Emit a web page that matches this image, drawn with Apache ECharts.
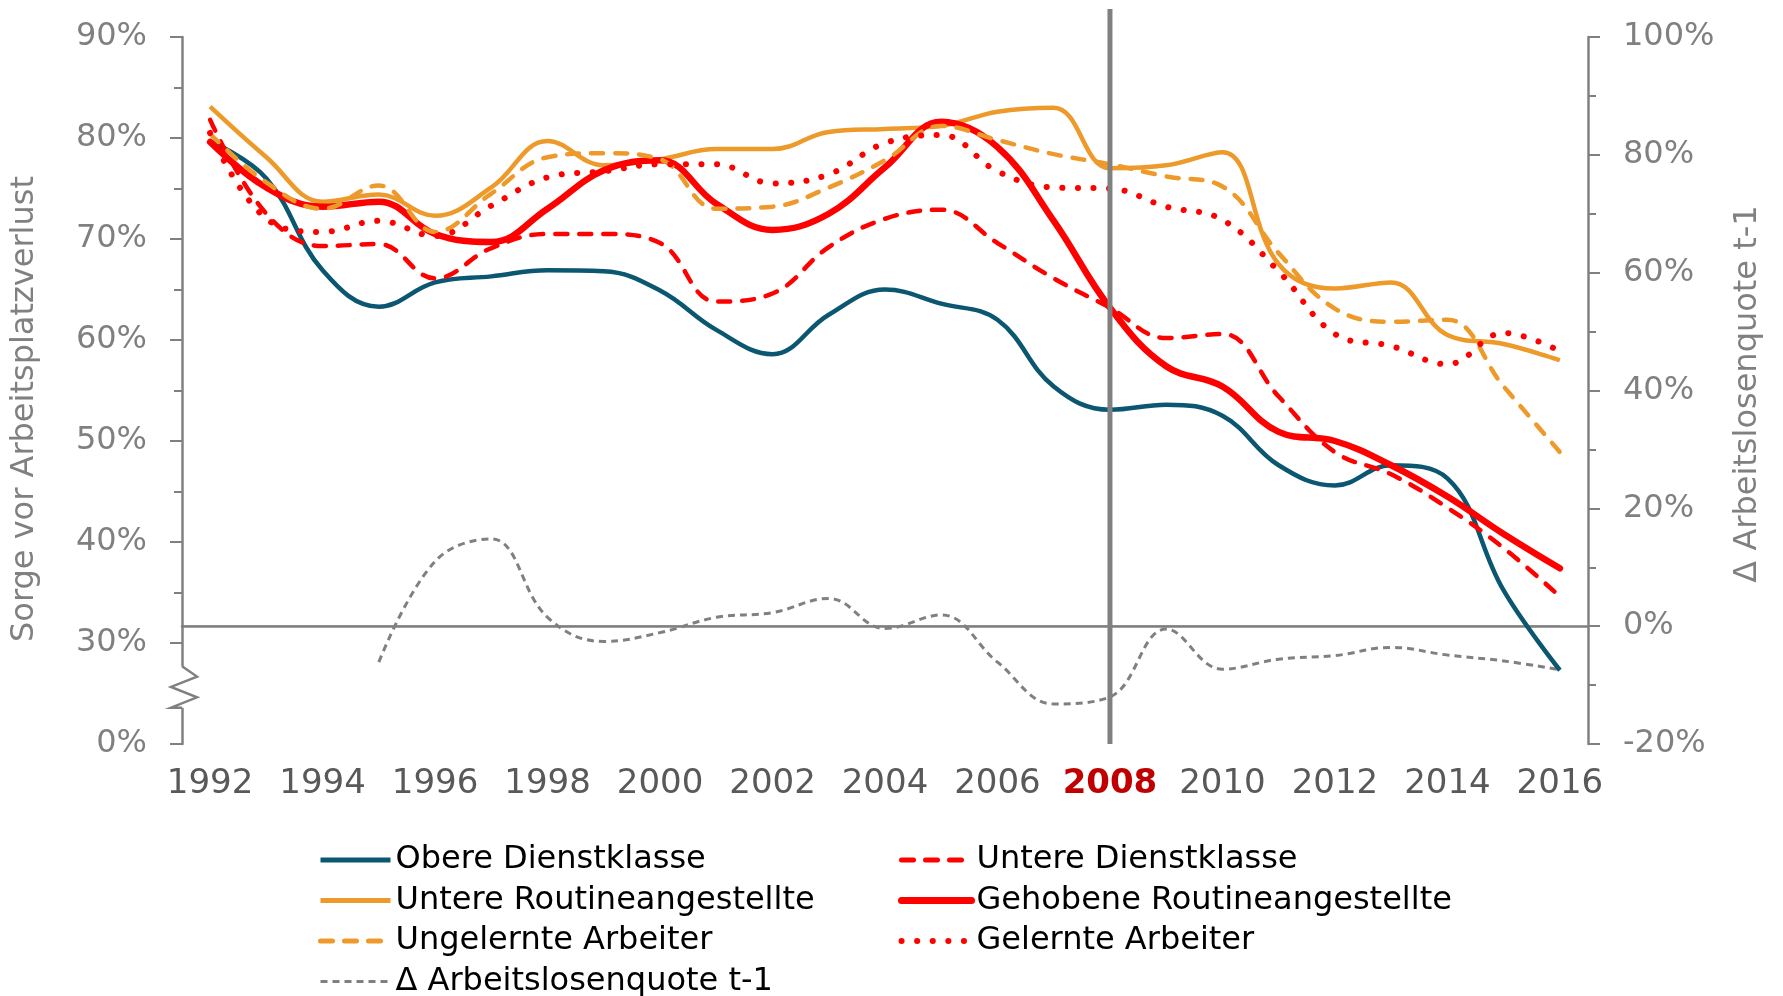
<!DOCTYPE html>
<html>
<head>
<meta charset="utf-8">
<script src="https://cdn.jsdelivr.net/npm/echarts@6/dist/echarts.min.js"></script>
<style>
html,body{margin:0;padding:0;background:#fff;}
#chart{width:1783px;height:996px;}
</style>
</head>
<body>
<div id="chart"></div>
<script>
// Jahre (Kategorien)
var years = ['1992','1993','1994','1995','1996','1997','1998','1999','2000','2001','2002','2003','2004',
             '2005','2006','2007','2008','2009','2010','2011','2012','2013','2014','2015','2016'];

// Sorge vor Arbeitsplatzverlust, in %
var obereDienst     = [79.7,76.0,66.9,63.3,65.7,66.3,66.9,66.8,64.9,61.0,58.6,62.5,65.0,63.6,62.0,55.4,53.1,53.6,52.5,47.6,45.6,47.6,46.3,35.2,27.3];
var untereDienst    = [81.8,72.5,69.3,69.5,66.1,69.1,70.5,70.5,69.6,63.8,64.6,69.2,72.0,72.9,69.6,66.1,63.2,60.2,60.6,54.4,48.9,46.7,43.4,39.4,34.6];
var untereRoutine   = [83.1,78.1,73.7,74.4,72.3,75.1,79.7,77.3,77.9,78.9,78.9,80.6,80.9,81.2,82.6,83.0,77.0,77.3,78.6,67.5,65.1,65.7,60.5,59.6,58.0];
var gehobeneRoutine = [79.6,75.1,73.2,73.7,70.5,69.7,73.0,76.8,77.8,73.5,70.9,72.5,77.1,81.6,79.1,71.8,63.2,57.4,55.4,50.9,50.0,47.6,44.5,40.8,37.4];
var ungelernte      = [80.4,75.6,73.0,75.3,70.7,74.5,78.1,78.5,77.9,73.0,73.2,75.1,77.8,81.2,79.8,78.4,77.4,76.2,75.2,68.6,63.1,61.8,62.0,55.4,48.9];
var gelernte        = [80.5,72.0,70.7,71.8,70.3,73.3,76.1,76.7,77.4,77.4,75.5,76.4,79.5,80.3,76.7,75.1,75.0,73.2,71.9,66.8,60.6,59.4,57.6,60.7,58.9];
// Δ Arbeitslosenquote t-1 (rechte Achse), ab 1995
var deltaALQ        = [null,null,null,-6.1,11.0,14.8,1.5,-2.6,-1.1,1.5,2.3,4.7,-0.4,1.9,-6.1,-13.2,-12.0,-0.5,-7.3,-5.6,-5.0,-3.6,-4.9,-5.9,-7.4];

var FONT = '"DejaVu Sans", Verdana, sans-serif';
var GRAU = '#808080';

var myChart = echarts.init(document.getElementById('chart'));

function linie(name, data, color, width, dash, cap, axis){
    return {
        name: name,
        type: 'line',
        data: data,
        yAxisIndex: axis || 0,
        smooth: 0.4,
        symbol: 'none',
        connectNulls: false,
        lineStyle: {color: color, width: width, type: dash, cap: cap || 'butt'},
        itemStyle: {color: color}
    };
}

function eintrag(name, width){
    return {name: name, lineStyle: {width: width}};
}

var legendeBasis = {
    orient: 'vertical', top: 844, height: 170, padding: 0,
    itemWidth: 70, itemHeight: 14, itemGap: 8.5,
    itemStyle: {opacity: 0},
    textStyle: {fontFamily: FONT, fontSize: 32, color: '#000', lineHeight: 32}
};

var option = {
    animation: false,
    backgroundColor: '#fff',
    grid: {left: 182, right: 195, top: 37, bottom: 252},
    legend: [
        echarts.util.extend({
            left: 318,
            data: [eintrag('Obere Dienstklasse', 5), eintrag('Untere Routineangestellte', 5),
                   eintrag('Ungelernte Arbeiter', 5), eintrag('Δ Arbeitslosenquote t-1', 3)]
        }, legendeBasis),
        echarts.util.extend({
            left: 898,
            data: [eintrag('Untere Dienstklasse', 5), eintrag('Gehobene Routineangestellte', 7),
                   eintrag('Gelernte Arbeiter', 6)]
        }, legendeBasis)
    ],
    xAxis: [
        {
            type: 'category',
            data: years,
            boundaryGap: true,
            axisLine: {lineStyle: {color: GRAU, width: 2.5}},
            axisTick: {interval: 1, length: 11, lineStyle: {color: GRAU, width: 2}},
            axisLabel: {
                interval: 1, margin: 23,
                fontFamily: FONT, fontSize: 34, color: '#595959',
                formatter: function(v){ return v === '2008' ? '{hl|2008}' : v; },
                rich: {hl: {fontFamily: FONT, fontSize: 34, color: '#C00000', fontWeight: 'bold'}}
            },
            splitLine: {show: false}
        },
        {
            type: 'category',
            data: years,
            position: 'bottom',
            boundaryGap: true,
            axisLine: {show: false},
            axisTick: {interval: 0, length: 7, lineStyle: {color: GRAU, width: 2}},
            axisLabel: {show: false},
            splitLine: {show: false}
        }
    ],
    yAxis: [
        {
            type: 'value',
            min: 20, max: 90, interval: 10,
            axisLine: {show: true, lineStyle: {color: GRAU, width: 2.5}},
            axisTick: {show: true, length: 12, lineStyle: {color: GRAU, width: 2}},
            minorTick: {show: true, splitNumber: 2, length: 8, lineStyle: {color: GRAU, width: 2}},
            axisLabel: {
                margin: 35, fontFamily: FONT, fontSize: 32, color: GRAU,
                formatter: function(v){ return (v === 20 ? 0 : v) + '%'; }
            },
            splitLine: {show: false}
        },
        {
            type: 'value',
            min: -20, max: 100, interval: 20,
            position: 'right',
            axisLine: {show: true, lineStyle: {color: GRAU, width: 2.5}},
            axisTick: {show: true, length: 12, lineStyle: {color: GRAU, width: 2}},
            minorTick: {show: true, splitNumber: 2, length: 8, lineStyle: {color: GRAU, width: 2}},
            axisLabel: {
                margin: 35, fontFamily: FONT, fontSize: 32, color: GRAU,
                formatter: '{value}%'
            },
            splitLine: {show: false}
        }
    ],
    series: [
        linie('Δ Arbeitslosenquote t-1', deltaALQ, '#808080', 3, [7, 5], 'butt', 1),
        linie('Obere Dienstklasse', obereDienst, '#0B5670', 4.5, 'solid'),
        linie('Untere Routineangestellte', untereRoutine, '#ED9A2A', 4.5, 'solid'),
        linie('Untere Dienstklasse', untereDienst, '#FF0000', 4.5, [12, 12], 'round'),
        linie('Gehobene Routineangestellte', gehobeneRoutine, '#FF0000', 6.5, 'solid', 'round'),
        linie('Ungelernte Arbeiter', ungelernte, '#ED9A2A', 4.5, [12, 12], 'round'),
        linie('Gelernte Arbeiter', gelernte, '#FF0000', 6, [0.1, 15.5], 'round')
    ]
};
myChart.setOption(option);

// Hilfslinien, Achsenbruch und Achsentitel
var x08 = myChart.convertToPixel({xAxisIndex: 0}, '2008');
var xEnd = myChart.convertToPixel({xAxisIndex: 0}, '2016');
var y0r = myChart.convertToPixel({yAxisIndex: 1}, 0);
var y30 = myChart.convertToPixel({yAxisIndex: 0}, 30);
var yBot = myChart.convertToPixel({yAxisIndex: 0}, 20);
var xL = 182;
var b1 = y30 + (yBot - y30) * 0.23, b2 = y30 + (yBot - y30) * 0.64;
var bh = (b2 - b1) / 4;

myChart.setOption({
    graphic: {
        elements: [
            {type: 'line', z: 1, shape: {x1: xL, y1: y0r, x2: xEnd, y2: y0r},
             style: {stroke: '#7F7F7F', lineWidth: 1.5}},
            {type: 'rect', z: 100, shape: {x: xL - 16, y: b1, width: 32, height: b2 - b1},
             style: {fill: '#fff'}},
            {type: 'polyline', z: 101,
             shape: {points: [[xL, b1], [xL + 15, b1 + bh], [xL - 11, b1 + 2 * bh], [xL + 15, b1 + 3 * bh], [xL - 11, b2], [xL, b2]]},
             style: {stroke: GRAU, lineWidth: 2.5, fill: null}},
            {type: 'line', z: 110, shape: {x1: x08, y1: 9, x2: x08, y2: yBot},
             style: {stroke: '#808080', lineWidth: 5}},
            {type: 'text', z: 100, x: 25, y: 409, rotation: Math.PI / 2,
             style: {text: 'Sorge vor Arbeitsplatzverlust', font: '32px ' + FONT, fill: GRAU, align: 'center', verticalAlign: 'middle'}},
            {type: 'text', z: 100, x: 1748, y: 394, rotation: Math.PI / 2,
             style: {text: 'Δ Arbeitslosenquote t-1', font: '32px ' + FONT, fill: GRAU, align: 'center', verticalAlign: 'middle'}}
        ]
    }
});
</script>
</body>
</html>
